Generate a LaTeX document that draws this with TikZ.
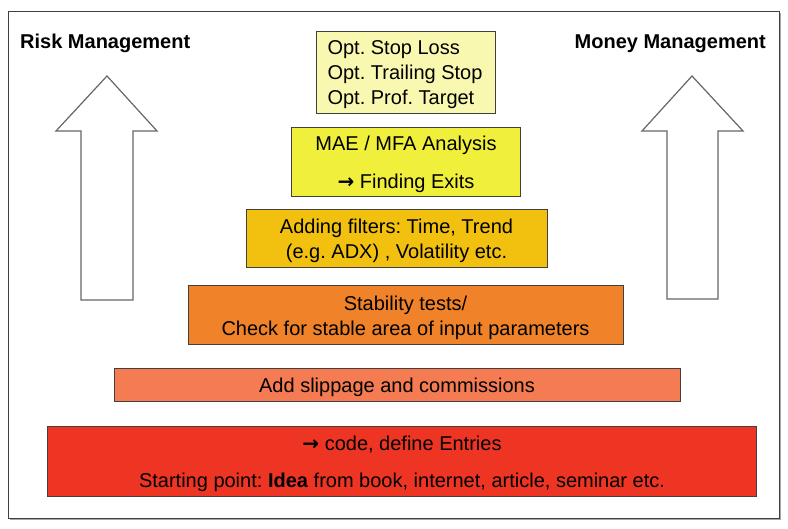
\documentclass[tikz,border=0pt]{standalone}
\usepackage{fontspec}
\setmainfont{Liberation Sans}
\newfontfamily\arrowfont{DejaVu Sans}
\newcommand{\rarr}{{\arrowfont\bfseries →}}
\definecolor{paleyel}{HTML}{F8F8B0}
\definecolor{brightyel}{HTML}{F0F03C}
\definecolor{goldbox}{HTML}{F2C10F}
\definecolor{orangebox}{HTML}{F0832A}
\definecolor{salmonbox}{HTML}{F47B52}
\definecolor{redbox}{HTML}{EE3524}
\definecolor{edgegray}{HTML}{404040}
\tikzset{
  levelbox/.style={draw=edgegray, line width=0.8pt, rectangle, inner sep=0pt},
  boxtext/.style={inner sep=0pt, align=center, yshift=-2.5pt,
    font=\frenchspacing\fontsize{20}{25}\selectfont},
  uparrow/.style={draw=gray!80!black, line width=1.2pt, fill=white, line join=miter},
  title/.style={inner sep=0pt, font=\bfseries\fontsize{20}{24}\selectfont}
}
\begin{document}
\begin{tikzpicture}[x=1pt,y=-1pt]
\useasboundingbox (0,0) rectangle (788,529);
\fill[white] (0,0) rectangle (788,529);
% frame with shadow
\draw[gray!70, line width=2pt] (10,519) -- (780,519) -- (780,13);
\draw[edgegray, line width=0.9pt] (8.5,11.5) rectangle (779,518);

% titles
\node[title, anchor=base west] (risk) at (20,49) {Risk Management};
\node[title, anchor=base east] (money) at (766,49) {Money Management};

% arrows
\draw[uparrow] (107,76) -- (157,131) -- (133,131) -- (133,300) -- (81,300) -- (81,131) -- (56,131) -- cycle;
\draw[uparrow] (692,76) -- (743,131) -- (718,131) -- (718,299) -- (667,299) -- (667,131) -- (642,131) -- cycle;

% level boxes
\node[levelbox, fill=paleyel, minimum width=179pt, minimum height=82pt,
      label={[boxtext, align=left, xshift=-0.5pt]center:{Opt. Stop Loss\\Opt. Trailing Stop\\Opt. Prof. Target}}]
      (opt) at (405.5,72) {};
\node[levelbox, fill=brightyel, minimum width=229pt, minimum height=69pt,
      label={[boxtext]center:{MAE / MFA Analysis\\[13pt]\rarr\ Finding Exits}}]
      (mae) at (406,161.5) {};
\node[levelbox, fill=goldbox, minimum width=301pt, minimum height=58pt,
      label={[boxtext]center:{Adding filters: Time, Trend\\(e.g. ADX) , Volatility etc.}}]
      (filt) at (396.5,238.5) {};
\node[levelbox, fill=orangebox, minimum width=435pt, minimum height=59pt,
      label={[boxtext]center:{Stability tests/\\Check for stable area of input parameters}}]
      (stab) at (405.5,315) {};
\node[levelbox, fill=salmonbox, minimum width=566pt, minimum height=33pt,
      label={[boxtext]center:{Add slippage and commissions}}]
      (slip) at (397,384.5) {};
\node[levelbox, fill=redbox, minimum width=709pt, minimum height=70pt,
      label={[boxtext]center:{\rarr\ code, define Entries\\[12pt]Starting point: \textbf{Idea} from book, internet, article, seminar etc.}}]
      (idea) at (402,461.5) {};
\end{tikzpicture}
\end{document}
